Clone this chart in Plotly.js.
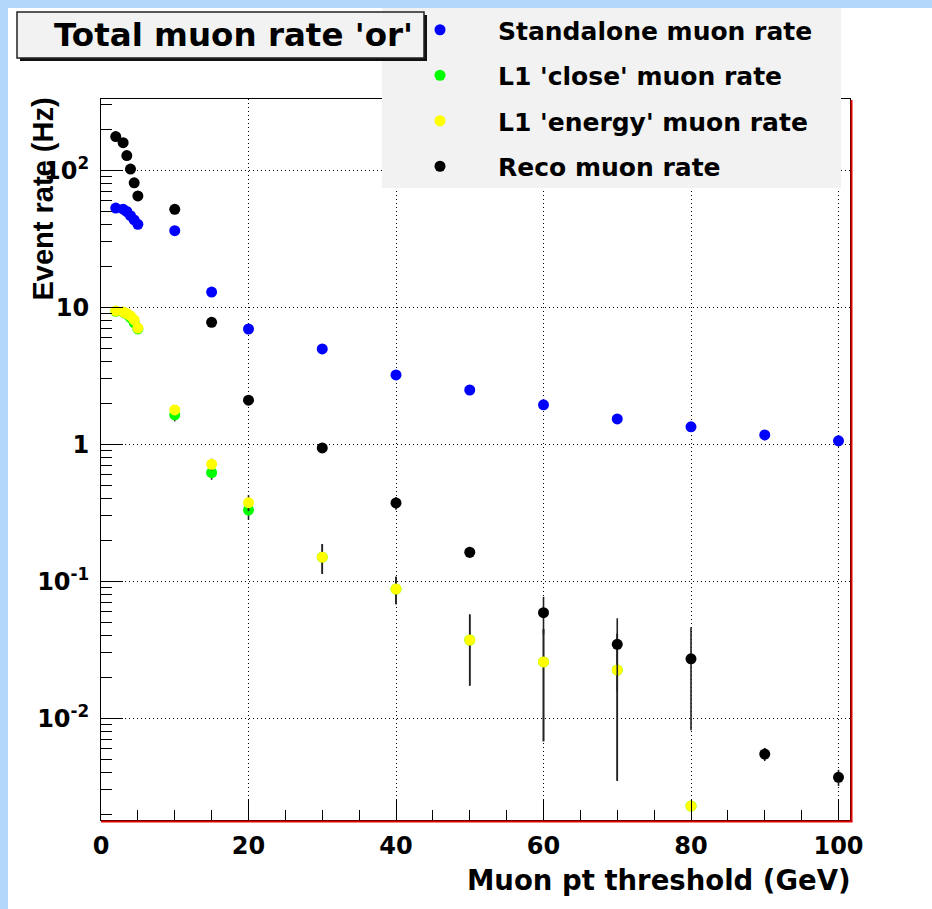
<!DOCTYPE html>
<html><head><meta charset="utf-8">
<script src="https://cdn.plot.ly/plotly-3.0.1.min.js"></script>
<style>html,body{margin:0;padding:0;background:#fff;} #chart{width:932px;height:909px;}</style>
</head><body><div id="chart"></div>
<script>
// ---- data ----
const thresholds = [2, 3, 3.5, 4, 4.5, 5, 10, 15, 20, 30, 40, 50, 60, 70, 80, 90, 100];

const standaloneRate = [53, 52, 50, 46.6, 43.4, 40.3, 36.2, 12.9, 6.94, 4.97, 3.21, 2.49, 1.94, 1.53, 1.34, 1.17, 1.06];
const standaloneErr  = [1.0, 1.0, 1.0, 1.0, 0.9, 0.9, 0.8, 0.4, 0.3, 0.2, 0.18, 0.16, 0.14, 0.12, 0.11, 0.1, 0.1];

const closeRate = [9.35, 9.2, 8.9, 8.4, 7.7, 6.95, 1.64, 0.621, 0.331, 0.150, 0.0879, 0.0373, 0.0258, 0.0225, 0.00229, null, null];
const closeErr  = [0.3, 0.3, 0.3, 0.3, 0.28, 0.26, 0.17, 0.07, 0.05, 0.037, 0.02, 0.02, 0.019, 0.019, 0, 0, 0];

const energyRate = [9.4, 9.24, 9.0, 8.64, 8.08, 7.06, 1.78, 0.715, 0.375, 0.150, 0.0879, 0.0373, 0.0258, 0.0225, 0.00229, null, null];
const energyErr  = [0.3, 0.3, 0.3, 0.3, 0.28, 0.26, 0.12, 0.07, 0.05, 0.037, 0.02, 0.02, 0.019, 0.019, 0, 0, 0];

const recoRate = [176, 159, 128, 102, 81, 65, 51.9, 7.77, 2.10, 0.94, 0.373, 0.163, 0.059, 0.0347, 0.0272, 0.00548, 0.00371];
const recoErr  = [2.3, 2.2, 2.0, 1.8, 1.6, 1.4, 1.0, 0.3, 0.15, 0.06, 0.04, 0.015, 0.018, 0.019, 0.019, 0.0006, 0.0005];

const seriesNames = ["Standalone muon rate", "L1 'close' muon rate", "L1 'energy' muon rate", "Reco muon rate"];
const seriesColors = ["#0000ff", "#00ff00", "#ffff00", "#000000"];

const yTickVals = [0.01, 0.1, 1, 10, 100];
const yTickText = ["10<sup>-2</sup>", "10<sup>-1</sup>", "1", "10", "10<sup>2</sup>"];
const xTickVals = [0, 20, 40, 60, 80, 100];
const xTickText = ["0", "20", "40", "60", "80", "100"];

const chartTitle = "Total muon rate 'or'";
const xTitle = "Muon pt threshold (GeV)";
const yTitle = "Event rate (Hz)";

// ---- layout helpers ----
const L = 101, R = 82, T = 99, B = 89, W = 932, H = 909;
const PW = W - L - R, PH = H - T - B;
const PX = px => (px - L) / PW;
const PY = py => (H - B - py) / PH;

const minorY = [];
for (let e = -3; e <= 2; e++) for (let d = 2; d <= 9; d++) minorY.push(d * Math.pow(10, e));

const rates = [standaloneRate, closeRate, energyRate, recoRate];
const errs = [standaloneErr, closeErr, energyErr, recoErr];

const traces = rates.map((r, i) => ({
  type: 'scatter', mode: 'markers',
  x: thresholds, y: r, name: seriesNames[i], legendgroup: 'g' + i,
  marker: {color: seriesColors[i], size: 11, line: {width: 0}},
  error_y: {type: 'data', array: errs[i], symmetric: true, color: '#222', thickness: 1.6, width: 0},
  cliponaxis: true
}));

const bold = {family: 'DejaVu Sans', weight: 'bold', color: '#000'};

const layout = {
  width: W, height: H,
  margin: {l: L, r: R, t: T, b: B, pad: 0, autoexpand: false},
  paper_bgcolor: '#ffffff', plot_bgcolor: '#ffffff',
  showlegend: true,
  legend: {
    x: PX(382), xanchor: 'left', y: PY(7), yanchor: 'top',
    bgcolor: 'rgba(0,0,0,0)', borderwidth: 0,
    itemwidth: 106, traceorder: 'grouped', tracegroupgap: 10,
    font: {family: 'DejaVu Sans', weight: 'bold', size: 25, color: '#000'}
  },
  xaxis: {
    range: [0, 101.56], tickmode: 'array', tickvals: xTickVals, ticktext: xTickText,
    ticks: 'inside', ticklen: 20, tickwidth: 1, tickcolor: '#000',
    showline: true, linecolor: '#000', linewidth: 1, mirror: true, automargin: false,
    showgrid: true, gridcolor: '#000', gridwidth: 1, griddash: '1px,3px', zeroline: false,
    minor: {tickmode: 'linear', tick0: 0, dtick: 5, ticks: 'inside', ticklen: 10, tickwidth: 1, tickcolor: '#000', showgrid: false},
    tickfont: Object.assign({size: 24}, bold), ticklabelstandoff: 4
  },
  yaxis: {
    type: 'log', range: [-2.742, 2.520], tickmode: 'array', tickvals: yTickVals, ticktext: yTickText,
    ticks: 'inside', ticklen: 22, tickwidth: 1, tickcolor: '#000',
    showline: true, linecolor: '#000', linewidth: 1, mirror: true, automargin: false,
    showgrid: true, gridcolor: '#000', gridwidth: 1, griddash: '1px,3px', zeroline: false,
    minor: {tickmode: 'array', tickvals: minorY, ticks: 'inside', ticklen: 11, tickwidth: 1, tickcolor: '#000', showgrid: false},
    tickfont: Object.assign({size: 24}, bold), ticklabelstandoff: 6
  },
  shapes: [
    // slide background strips
    {type: 'rect', xref: 'paper', yref: 'paper', x0: PX(0), x1: PX(8), y0: PY(909), y1: PY(0), fillcolor: '#b3d6fb', line: {width: 0}, layer: 'below'},
    {type: 'rect', xref: 'paper', yref: 'paper', x0: PX(0), x1: PX(932), y0: PY(8), y1: PY(0), fillcolor: '#b3d6fb', line: {width: 0}, layer: 'below'},
    // red frame shadow
    {type: 'line', xref: 'paper', yref: 'paper', x0: PX(851.5), x1: PX(851.5), y0: PY(821.5), y1: PY(100), line: {color: '#e00000', width: 2}, layer: 'above'},
    {type: 'line', xref: 'paper', yref: 'paper', x0: PX(101), x1: PX(852.5), y0: PY(821.5), y1: PY(821.5), line: {color: '#e00000', width: 2}, layer: 'above'},
    // legend box
    {type: 'rect', xref: 'paper', yref: 'paper', x0: PX(382), x1: PX(841), y0: PY(188), y1: PY(8), fillcolor: '#f2f2f2', line: {width: 0}, layer: 'above'},
    // title box shadow + box
    {type: 'rect', xref: 'paper', yref: 'paper', x0: PX(20), x1: PX(427), y0: PY(61), y1: PY(15), fillcolor: '#111', line: {width: 0}, layer: 'above'},
    {type: 'rect', xref: 'paper', yref: 'paper', x0: PX(17), x1: PX(424), y0: PY(58), y1: PY(12), fillcolor: '#f2f2f2', line: {color: '#222', width: 1.5}, layer: 'above'}
  ],
  annotations: [
    {text: chartTitle, xref: 'paper', yref: 'paper', x: PX(233), y: PY(35), xanchor: 'center', yanchor: 'middle', showarrow: false,
     font: {family: 'DejaVu Sans', weight: 'bold', size: 32.5, color: '#000'}},
    {text: xTitle, xref: 'paper', yref: 'paper', x: PX(853), y: PY(880), xanchor: 'right', yanchor: 'middle', showarrow: false,
     font: {family: 'DejaVu Sans', weight: 'bold', size: 27.5, color: '#000'}},
    {text: yTitle, xref: 'paper', yref: 'paper', x: PX(42), y: PY(96), xanchor: 'center', yanchor: 'top', showarrow: false, textangle: -90,
     font: {family: 'Liberation Sans', weight: 'bold', size: 29, color: '#000'}}
  ]
};

Plotly.newPlot('chart', traces, layout, {displayModeBar: false, staticPlot: true});
</script>
</body></html>
